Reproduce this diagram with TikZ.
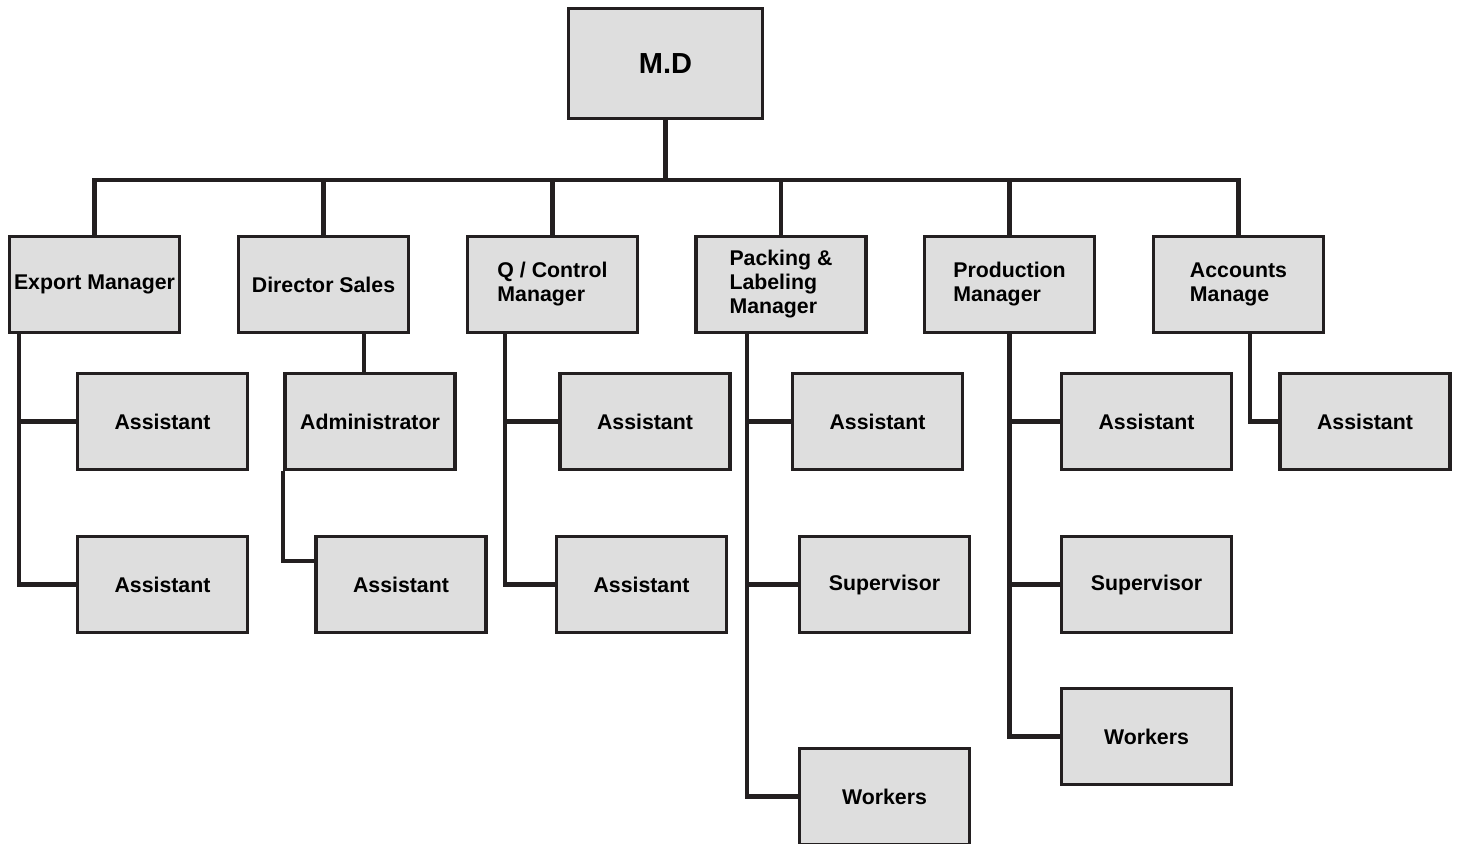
\documentclass[tikz,border=0pt]{standalone}
\usepackage{fontspec}
\setmainfont{Liberation Sans}
\usepackage{tikz}
\usetikzlibrary{positioning}

\definecolor{inkline}{HTML}{231F20}
\definecolor{boxgrey}{HTML}{DEDEDE}

\tikzset{
  box/.style={draw=inkline, fill=boxgrey, line width=1.8pt, inner sep=2pt,
    minimum width=85pt, minimum height=48pt, align=left,
    font=\bfseries\fontsize{10.65}{12}\selectfont},
  head box/.style={box},
  top box/.style={box, minimum width=97pt, minimum height=55pt,
    font=\bfseries\fontsize{14.5}{16}\selectfont},
  wire/.style={draw=inkline, line width=2.1pt}
}

\begin{document}
\begin{tikzpicture}[x=0.5pt, y=-0.5pt]

\useasboundingbox (0,0) rectangle (1458,844);

\node [top box] (md) at (665.5,63.5) {M.D};
\coordinate (bus) at (665.5,180);

\foreach \n/\x/\t in {export/94.5/{Export Manager}, director/323.5/{Director Sales},
    qc/552.5/{Q / Control\\Manager}, packing/781/{Packing \&\\Labeling\\Manager},
    production/1009.5/{Production\\Manager}, accounts/1238.5/{Accounts\\Manage}}
  \node [head box] (\n) at (\x,284.5) {\t};

\foreach \n/\x/\y/\t in {ea1/162.5/421.5/Assistant, ea2/162.5/584.5/Assistant,
    admin/370/421.5/Administrator, da/401/584.5/Assistant,
    qa1/645/421.5/Assistant, qa2/641.5/584.5/Assistant,
    pa/877.5/421.5/Assistant, ps/884.5/584.5/Supervisor, pw/884.5/796.5/Workers,
    pra/1146.5/421.5/Assistant, prs/1146.5/584.5/Supervisor, prw/1146.5/736.5/Workers,
    aa/1365/421.5/Assistant}
  \node [box] (\n) at (\x,\y) {\t};

% top level
\draw [wire] (md.south) -- (md.south |- bus);
\draw [wire] (export.north) |- (bus -| accounts.north) -- (accounts.north);
\foreach \n in {director,qc,packing,production}
  \draw [wire] (\n.north) -- (\n.north |- bus);

% staff under each manager
\foreach \p/\s/\c in {export/-37.75/ea1, export/-37.75/ea2, qc/-23.75/qa1, qc/-23.75/qa2,
    packing/-17/pa, packing/-17/ps, packing/-17/pw,
    production/0/pra, production/0/prs, production/0/prw, accounts/5.75/aa}
  \draw [wire] ([xshift=\s pt]\p.south) |- (\c.west);

\draw [wire] ([xshift=20.25pt]director.south) -- ([xshift=20.25pt]director.south |- admin.north);
\draw [wire] (admin.south west) |- ([yshift=11.75pt]da.west);

\end{tikzpicture}
\end{document}
